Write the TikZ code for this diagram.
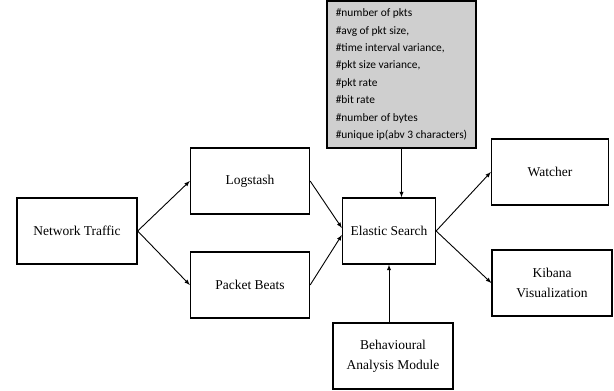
\documentclass[tikz,border=0pt]{standalone}
\usepackage{fontspec}
\setmainfont{Liberation Serif}
\newfontfamily\calibfont{Carlito}
\usepackage{tikz}
\usetikzlibrary{arrows}
\tikzset{
	blockbox/.style={draw, line width=1.3pt, inner sep=0pt, minimum height=66pt, align=center, font=\fontsize{13.5}{20}\selectfont},
	featbox/.style={draw, line width=1.2pt, fill=gray!38, inner sep=0pt, minimum width=149pt, minimum height=147pt, align=left, font=\calibfont\fontsize{11.4}{17.4}\selectfont},
	flow/.style={->, >=latex, line width=0.9pt}
}

\begin{document}
\begin{tikzpicture}[x=1pt,y=-1pt]
	\useasboundingbox (0,0) rectangle (614,391);
	\node[blockbox,minimum width=120pt] (traffic) at (77,231) {Network Traffic};
	\node[blockbox,minimum width=119pt] (logstash) at (250,181) {Logstash};
	\node[blockbox,minimum width=119pt] (beats) at (250,285) {Packet Beats};
	\node[blockbox,minimum width=93pt] (elastic) at (389,231) {Elastic Search};
	\node[blockbox,minimum width=117pt] (watcher) at (550,172) {Watcher};
	\node[blockbox,minimum width=120pt] (kibana) at (552,283) {Kibana\\Visualization};
	\node[blockbox,minimum width=120pt] (behaviour) at (393,356) {Behavioural\\Analysis Module};
	\node[featbox] (features) at (401.5,74.5) {\#number of pkts\\\#avg of pkt size,\\\#time interval variance,\\\#pkt size variance,\\\#pkt rate\\\#bit rate\\\#number of bytes\\\#unique ip(abv 3 characters)};
	\draw[flow] (traffic.east) -- (logstash.west);
	\draw[flow] (traffic.east) -- (beats.west);
	\draw[flow] (logstash.east) -- ([yshift=3pt]elastic.west);
	\draw[flow] (beats.east) -- ([yshift=-4pt]elastic.west);
	\draw[flow] (elastic.east) -- (watcher.west);
	\draw[flow] (elastic.east) -- (kibana.west);
	\draw[flow] (features.south) -- (features.south |- elastic.north);
	\draw[flow] (elastic.south |- behaviour.north) -- (elastic.south);
\end{tikzpicture}
\end{document}
